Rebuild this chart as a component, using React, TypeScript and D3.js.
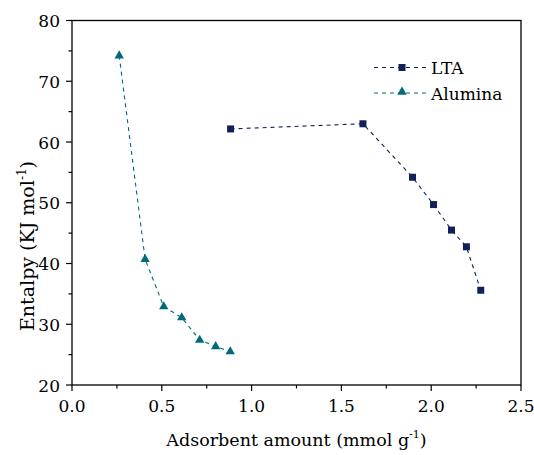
import React from "react";
import * as d3 from "d3";

const ltaX = [0.883, 1.62, 1.896, 2.013, 2.113, 2.196, 2.276];
const ltaY = [62.15, 63.0, 54.2, 49.7, 45.5, 42.75, 35.6];
const aluX = [0.263, 0.407, 0.511, 0.611, 0.711, 0.8, 0.881];
const aluY = [74.2, 40.7, 32.9, 31.1, 27.4, 26.35, 25.5];
const xTicks = [0, 0.5, 1.0, 1.5, 2.0, 2.5];
const yTicks = [20, 30, 40, 50, 60, 70, 80];

const W = 534, H = 455;
const L = 72, R = 521, T = 20.5, B = 385;
const ltaColor = "#0f2157";
const aluColor = "#006a7c";
const font = "DejaVu Serif";

export default function App() {
  const x = d3.scaleLinear().domain([0, 2.5]).range([L, R]);
  const y = d3.scaleLinear().domain([20, 80]).range([B, T]);
  const line = d3.line<[number, number]>().x(d => x(d[0])).y(d => y(d[1]));
  const lta = ltaX.map((v, i) => [v, ltaY[i]] as [number, number]);
  const alu = aluX.map((v, i) => [v, aluY[i]] as [number, number]);
  const xMinor = d3.range(0.25, 2.5, 0.5);
  const yMinor = d3.range(25, 80, 10);
  const tri = d3.symbol().type(d3.symbolTriangle).size(38)();
  return (
    <svg width={W} height={H} style={{ position: "absolute", left: 0, top: 0, background: "#fff", fontFamily: font }}>
      <rect x={L} y={T} width={R - L} height={B - T} fill="none" stroke="#000" strokeWidth={1.3} />
      {xTicks.map(t => (
        <g key={"x" + t}>
          <line x1={x(t)} x2={x(t)} y1={B} y2={B + 6} stroke="#000" strokeWidth={1.2} />
          <text x={x(t)} y={B + 27} textAnchor="middle" fontFamily={font} fontSize={17}>{t.toFixed(1)}</text>
        </g>
      ))}
      {xMinor.map(t => (
        <line key={"xm" + t} x1={x(t)} x2={x(t)} y1={B} y2={B + 3.5} stroke="#000" strokeWidth={1.2} />
      ))}
      {yTicks.map(t => (
        <g key={"y" + t}>
          <line x1={L - 6} x2={L} y1={y(t)} y2={y(t)} stroke="#000" strokeWidth={1.2} />
          <text x={L - 12} y={y(t) + 6.5} textAnchor="end" fontFamily={font} fontSize={17}>{t}</text>
        </g>
      ))}
      {yMinor.map(t => (
        <line key={"ym" + t} x1={L - 3.5} x2={L} y1={y(t)} y2={y(t)} stroke="#000" strokeWidth={1.2} />
      ))}
      <text x={(L + R) / 2 + 0} y={446} textAnchor="middle" fontFamily={font} fontSize={17.5}>
        Adsorbent amount (mmol g<tspan dy={-8} fontSize={11}>-1</tspan><tspan dy={8}>)</tspan>
      </text>
      <text transform={`translate(34,331) rotate(-90)`} textAnchor="start" fontFamily={font} fontSize={19}>
        Entalpy (KJ mol<tspan dy={-8} fontSize={12}>-1</tspan><tspan dy={8}>)</tspan>
      </text>
      <path d={line(lta) || ""} fill="none" stroke={ltaColor} strokeWidth={1.1} strokeDasharray="4,4" />
      <path d={line(alu) || ""} fill="none" stroke={aluColor} strokeWidth={1.1} strokeDasharray="4,4" />
      {lta.map((d, i) => (
        <rect key={"l" + i} x={x(d[0]) - 3.5} y={y(d[1]) - 3.5} width={7} height={7} fill={ltaColor} />
      ))}
      {alu.map((d, i) => (
        <path key={"a" + i} d={tri || ""} transform={`translate(${x(d[0])},${y(d[1])})`} fill={aluColor} />
      ))}
      <g>
        <line x1={374} x2={426} y1={67.5} y2={67.5} stroke={ltaColor} strokeWidth={1.1} strokeDasharray="4,4" />
        <rect x={398.5} y={64} width={7} height={7} fill={ltaColor} />
        <text x={431} y={74} fontFamily={font} fontSize={17}>LTA</text>
        <line x1={374} x2={426} y1={93} y2={93} stroke={aluColor} strokeWidth={1.1} strokeDasharray="4,4" />
        <path d={tri || ""} transform={`translate(402,92)`} fill={aluColor} />
        <text x={431} y={99.5} fontFamily={font} fontSize={17}>Alumina</text>
      </g>
    </svg>
  );
}
